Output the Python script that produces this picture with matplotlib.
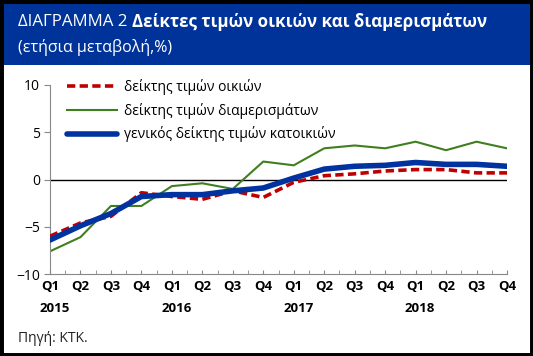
import matplotlib
matplotlib.use("Agg")
import matplotlib.pyplot as plt
from matplotlib.patches import Rectangle

plt.rcParams['font.family'] = ['Open Sans', 'DejaVu Sans']

# Data (annual change, %)
quarters = ['Q1', 'Q2', 'Q3', 'Q4'] * 4
years = ['2015', '2016', '2017', '2018']
houses = [-6.0, -4.6, -3.9, -1.4, -1.8, -2.1, -1.2, -1.9,
          -0.3, 0.4, 0.6, 0.9, 1.05, 1.05, 0.7, 0.7]
flats = [-7.6, -6.1, -2.8, -2.8, -0.7, -0.4, -1.0, 1.9,
         1.5, 3.3, 3.6, 3.3, 4.0, 3.1, 4.0, 3.3]
general = [-6.4, -4.9, -3.6, -1.8, -1.6, -1.6, -1.2, -0.9,
           0.15, 1.1, 1.4, 1.5, 1.8, 1.6, 1.6, 1.4]
labels = ['δείκτης τιμών οικιών',
          'δείκτης τιμών διαμερισμάτων',
          'γενικός δείκτης τιμών κατοικιών']

W, H = 533, 356
fig = plt.figure(figsize=(W / 100, H / 100), dpi=100)

# header band
fig.patches.append(Rectangle((0, 1 - 65 / H), 1, 65 / H, transform=fig.transFigure,
                             facecolor='#003399', edgecolor='none', zorder=0))
# outer black frame
fig.patches.append(Rectangle((0, 0), 1, 1, transform=fig.transFigure,
                             facecolor='none', edgecolor='black', linewidth=5, zorder=5))

t1 = fig.text(18 / W, 1 - 22 / H, 'ΔΙΑΓΡΑΜΜΑ 2 ', color='white', fontsize=12.2,
              va='center', ha='left')
fig.canvas.draw()
bb = t1.get_window_extent()
fig.text(bb.x1 / W, 1 - 22 / H, 'Δείκτες τιμών οικιών και διαμερισμάτων', color='white',
         fontsize=12.2, fontweight='bold', va='center', ha='left')
fig.text(18 / W, 1 - 47 / H, '(ετήσια μεταβολή,%)', color='white', fontsize=11.5,
         va='center', ha='left')
fig.text(18 / W, 1 - 339 / H, 'Πηγή: ΚΤΚ.', color='#222222', fontsize=10,
         va='center', ha='left')

ax = fig.add_axes([50 / W, 1 - 274 / H, 457 / W, 189 / H])
x = list(range(len(quarters)))
ax.axhline(0, color='black', linewidth=1, zorder=1)
ax.plot(x, houses, color='#C00000', linewidth=2.6, dashes=(2.3, 1.2), label=labels[0], zorder=3)
ax.plot(x, flats, color='#3F7F1F', linewidth=1.5, label=labels[1], zorder=2)
ax.plot(x, general, color='#0033A0', linewidth=4, label=labels[2], zorder=4,
        solid_capstyle='round')

ax.set_xlim(0, 15)
ax.set_ylim(-10, 10)
ax.set_yticks([-10, -5, 0, 5, 10])
ax.set_xticks(x)
ax.set_xticklabels(quarters, fontweight='bold', fontsize=9.5)
ax.set_xticks([i + 0.5 for i in x[:-1]], minor=True)
ax.tick_params(axis='x', which='both', direction='in', length=3, color='#888888', pad=4)
ax.tick_params(axis='y', direction='out', length=4, color='#888888', labelsize=10, pad=3)
for s in ['top', 'right']:
    ax.spines[s].set_visible(False)
ax.spines['left'].set_color('#888888')
ax.spines['bottom'].set_color('#888888')

for i, yr in enumerate(years):
    ax.text(i * 4 + 0.15, -0.18, yr, transform=ax.get_xaxis_transform(),
            ha='center', va='center', fontweight='bold', fontsize=9.5)

ax.legend(loc='upper left', bbox_to_anchor=(0.025, 1.06), frameon=False, fontsize=10,
          handlelength=3.6, handletextpad=0.5, labelspacing=0.55, borderaxespad=0)

fig.savefig('out.png', dpi=100)
